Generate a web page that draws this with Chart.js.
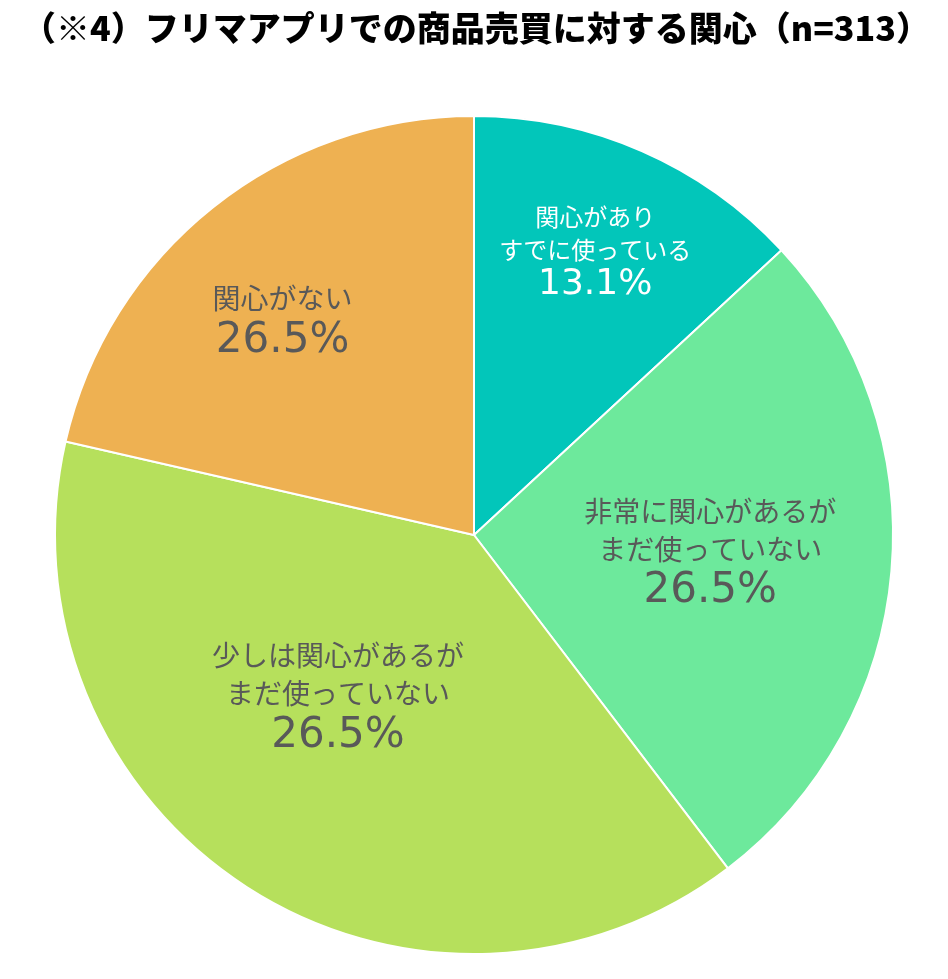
<!DOCTYPE html>
<html>
<head>
<meta charset="utf-8">
<script src="https://cdn.jsdelivr.net/npm/chart.js@4"></script>
<style>
  html, body { margin: 0; padding: 0; background: #fff; }
  #wrap { width: 948px; height: 979px; position: relative; }
</style>
</head>
<body>
<div id="wrap"><canvas id="myChart"></canvas></div>
<script>
const title = "（※4）フリマアプリでの商品売買に対する関心（n=313）";

// slice labels (two lines each, some have one)
const labels = [
  ["関心があり", "すでに使っている"],
  ["非常に関心があるが", "まだ使っていない"],
  ["少しは関心があるが", "まだ使っていない"],
  ["関心がない"],
];
// slice sizes as drawn (%)
const values = [13.1, 26.5, 38.9, 21.4];
// percentage text as printed on the chart
const valueLabels = ["13.1%", "26.5%", "26.5%", "26.5%"];

const colors = ["#02C6BA", "#6DE99C", "#B6E05C", "#EEB152"];

// label placement: radius fraction, angle shift (deg), font scale
const labelPlace = [
  { f: 0.74, shift: -0.6, scale: 0.85, color: "#ffffff" },
  { f: 0.565, shift: -1.3, scale: 1, color: "#595959" },
  { f: 0.5, shift: 7.7, scale: 1, color: "#595959" },
  { f: 0.69, shift: -2.9, scale: 1, color: "#595959" },
];

const FONT = '"DejaVu Sans", "Noto Sans CJK JP", sans-serif';
const JFONT = '"Noto Sans CJK JP", sans-serif';

const pieLabels = {
  id: "pieLabels",
  afterDraw(chart) {
    const ctx = chart.ctx;
    ctx.save();
    // title
    ctx.fillStyle = "#000000";
    ctx.font = "900 34px " + JFONT;
    ctx.textAlign = "center";
    ctx.textBaseline = "middle";
    ctx.fillText(title, 476, 28);

    const meta = chart.getDatasetMeta(0);
    meta.data.forEach((arc, i) => {
      const p = arc.getProps(["x", "y", "startAngle", "endAngle", "outerRadius"], true);
      const lp = labelPlace[i];
      const mid = (p.startAngle + p.endAngle) / 2 + lp.shift * Math.PI / 180;
      const cx = p.x + Math.cos(mid) * p.outerRadius * lp.f;
      const cy = p.y + Math.sin(mid) * p.outerRadius * lp.f + 1.5;
      const s = lp.scale;
      const lineH = 38 * s;
      const pctGap = 42 * s;
      const lines = labels[i];
      const total = (lines.length - 1) * lineH + pctGap;
      let y = cy - total / 2;
      ctx.fillStyle = lp.color;
      ctx.font = Math.round(28 * s) + "px " + JFONT;
      lines.forEach((t) => {
        ctx.fillText(t, cx, y);
        y += lineH;
      });
      y += pctGap - lineH;
      ctx.font = Math.round(42 * s) + "px " + FONT;
      ctx.fillText(valueLabels[i], cx, y);
    });
    ctx.restore();
  },
};

const ctx = document.getElementById("myChart").getContext("2d");
const myChart = new Chart(ctx, {
  type: "pie",
  data: {
    labels: labels.map((l) => l.join("")),
    datasets: [
      {
        data: values,
        backgroundColor: colors,
        borderColor: "#ffffff",
        borderWidth: 2,
        hoverOffset: 0,
      },
    ],
  },
  options: {
    responsive: true,
    maintainAspectRatio: false,
    animation: false,
    events: [],
    layout: {
      padding: { top: 115, bottom: 24, left: 0, right: 0 },
    },
    plugins: {
      legend: { display: false },
      tooltip: { enabled: false },
      title: { display: false },
    },
  },
  plugins: [pieLabels],
});
</script>
</body>
</html>
